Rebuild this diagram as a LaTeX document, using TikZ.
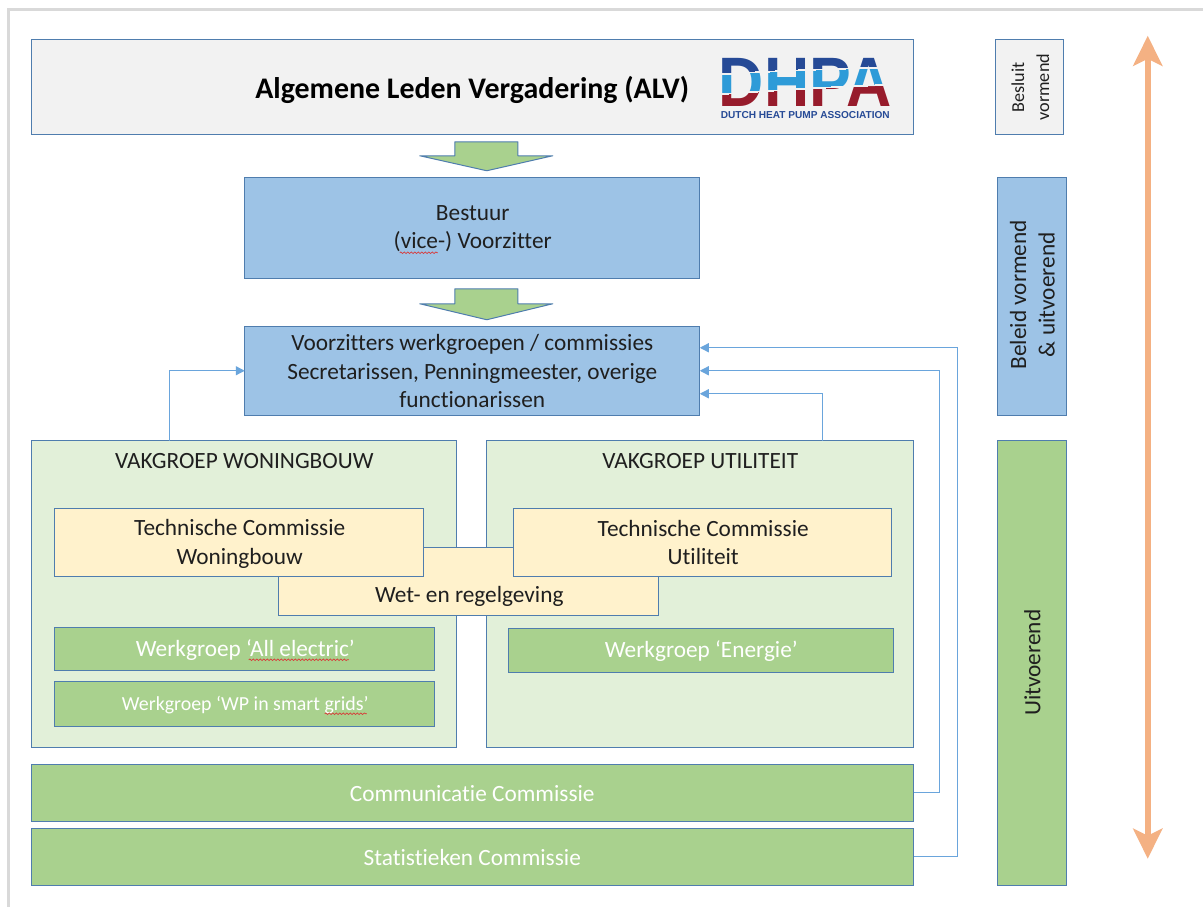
\documentclass[tikz,border=0pt]{standalone}
\usepackage{fontspec}
\usepackage{graphicx}
\setmainfont{Carlito}[Ligatures=CommonOff]
\newfontfamily\logofont{Liberation Sans}[BoldFont={Liberation Sans Bold}]
\usetikzlibrary{arrows.meta,decorations.pathmorphing}
\definecolor{edgeblue}{HTML}{4F7DAE}
\definecolor{lightgrey}{HTML}{F2F2F2}
\definecolor{midblue}{HTML}{9DC3E6}
\definecolor{midgreen}{HTML}{A9D18E}
\definecolor{palegreen}{HTML}{E2F0D9}
\definecolor{paleyellow}{HTML}{FFF2CC}
\definecolor{linkblue}{HTML}{6AA5DC}
\definecolor{orangearrow}{HTML}{F4B183}
\definecolor{logodark}{HTML}{264A96}
\definecolor{logolight}{HTML}{2E9BD8}
\definecolor{logored}{HTML}{971C2C}
\definecolor{pageline}{HTML}{D9D9D9}
\tikzset{
  x=1pt,y=-1pt,
  boxbase/.style={draw=edgeblue,line width=1.2pt,inner sep=0pt,outer sep=0pt,anchor=north west},
  greybox/.style={boxbase,fill=lightgrey},
  bluebox/.style={boxbase,fill=midblue},
  greenbox/.style={boxbase,fill=midgreen},
  palebox/.style={boxbase,fill=palegreen},
  yellowbox/.style={boxbase,fill=paleyellow},
  bodytext/.style={font=\fontsize{23.3}{28.5}\selectfont,align=center,text=black!88},
  whitetext/.style={font=\fontsize{23.3}{28.5}\selectfont,text=white},
  blockarrow/.style={draw=edgeblue,line width=1pt,fill=midgreen,line join=round},
  link/.style={draw=linkblue,line width=1.3pt,-{Triangle[length=9pt,width=9pt]}},
  squiggle/.style={draw=red!75!white!85!black,line width=.7pt,decorate,decoration={snake,amplitude=.8pt,segment length=3.5pt}},
  logoletters/.style={font=\logofont\bfseries\fontsize{70}{70}\selectfont,xscale=.895,inner sep=0pt},
}
\begin{document}
\begin{tikzpicture}
\useasboundingbox (0,0) rectangle (1203,907);
\fill[white] (0,0) rectangle (1203,907);
\begin{scope}[shift={(-.25,-.25)}]
\draw[pageline,line width=2.6pt] (9,908) -- (9,10) -- (1204,10);

% top
\node[greybox,minimum width=882pt,minimum height=95pt] (alv) at (32,40) {};
\node[font=\fontsize{29.9}{34}\selectfont\bfseries,text=black] (alvt) at (472.5,90.5) {Algemene Leden Vergadering (ALV)};
\node[greybox,minimum width=68pt,minimum height=95pt] (besluit) at (996,40) {};
\node[rotate=90,align=center,font=\fontsize{18.2}{25}\selectfont,text=black!88] (besluitt) at (1030.5,87.5) {Besluit\\vormend};

% logo
\begin{scope}
\clip (715,55) -- (895,55) -- (895,66.5) .. controls (850,67) and (790,69) .. (715,73.5) -- cycle;
\node[logoletters,text=logodark] (logoa) at (805.5,83) {DHPA};
\end{scope}
\begin{scope}
\clip (715,75.5) .. controls (790,71) and (850,69) .. (895,68.5) -- (895,83.5) .. controls (850,85) and (790,88) .. (715,93.5) -- cycle;
\node[logoletters,text=logolight] (logob) at (805.5,83) {DHPA};
\end{scope}
\begin{scope}
\clip (715,95.5) .. controls (790,90) and (850,87) .. (895,85.5) -- (895,111) -- (715,111) -- cycle;
\node[logoletters,text=logored] (logoc) at (805.5,83) {DHPA};
\end{scope}
\node[font=\logofont\bfseries\fontsize{11.5}{12}\selectfont,text=logodark,inner sep=0pt] (logosub) at (805.5,115.5) {\resizebox{169pt}{!}{DUTCH HEAT PUMP ASSOCIATION}};

% block arrows
\draw[blockarrow] (455,142) -- (518,142) -- (518,156) -- (553,156) -- (487,171) -- (420,156) -- (455,156) -- cycle;
\draw[blockarrow] (455,289) -- (518,289) -- (518,304) -- (553,304) -- (487,320) -- (420,304) -- (455,304) -- cycle;

% blue
\node[bluebox,minimum width=455pt,minimum height=101pt] (bestuur) at (245,178) {};
\node[bodytext] (bestuurt) at (473,229) {Bestuur\\(vice-) Voorzitter};
\node[bluebox,minimum width=455pt,minimum height=89pt] (voorz) at (245,327) {};
\node[bodytext] (voorzt) at (472.5,371.5) {Voorzitters werkgroepen / commissies\\Secretarissen, Penningmeester, overige\\functionarissen};
\node[bluebox,minimum width=69pt,minimum height=238pt] (beleid) at (998,178) {};
\node[bodytext,rotate=90] (beleidt) at (1032.5,295) {Beleid vormend\\\& uitvoerend};
\node[greenbox,minimum width=69pt,minimum height=445pt] (uitv) at (998,441) {};
\node[bodytext,rotate=90] (uitvt) at (1032.5,663) {Uitvoerend};

% vakgroepen
\node[palebox,minimum width=425pt,minimum height=307pt] (vakw) at (32,441) {};
\node[bodytext] (vakwt) at (244.5,461) {VAKGROEP WONINGBOUW};
\node[palebox,minimum width=427pt,minimum height=307pt] (vaku) at (487,441) {};
\node[bodytext] (vakut) at (700.5,461) {VAKGROEP UTILITEIT};

% yellow
\node[yellowbox,minimum width=380pt,minimum height=68pt] (wet) at (279,548) {};
\node[bodytext] (wett) at (469.5,597) {Wet- en regelgeving};
\node[yellowbox,minimum width=369pt,minimum height=68pt] (tcw) at (55,509) {};
\node[bodytext] (tcwt) at (240,544) {Technische Commissie\\Woningbouw};
\node[yellowbox,minimum width=378pt,minimum height=68pt] (tcu) at (514,509) {};
\node[bodytext] (tcut) at (703.5,542.5) {Technische Commissie\\Utiliteit};

% werkgroepen
\node[greenbox,minimum width=380pt,minimum height=43pt] (wga) at (55,628) {};
\node[whitetext] (wgat) at (245.5,650.5) {Werkgroep ‘All electric’};
\node[greenbox,minimum width=380pt,minimum height=45pt] (wgw) at (55,682) {};
\node[font=\fontsize{19.9}{24}\selectfont,text=white] (wgwt) at (245.5,705.5) {Werkgroep ‘WP in smart grids’};
\node[greenbox,minimum width=385pt,minimum height=44pt] (wge) at (509,629) {};
\node[whitetext] (wget) at (701.5,651) {Werkgroep ‘Energie’};
\node[greenbox,minimum width=882pt,minimum height=57pt] (comm) at (32,765) {};
\node[whitetext] (commt) at (472.5,793.5) {Communicatie Commissie};
\node[greenbox,minimum width=882pt,minimum height=57pt] (stat) at (32,829) {};
\node[whitetext] (statt) at (472.5,858) {Statistieken Commissie};

% squiggles
\draw[squiggle] (400,253) -- (438,253);
\draw[squiggle] (249,660) -- (349,660);
\draw[squiggle] (325,714) -- (367,714);

% connectors
\coordinate (wtop) at (170,441);
\coordinate (vin) at (245,371);
\coordinate (utop) at (823,441);
\coordinate (vr1) at (700,348);
\coordinate (vr2) at (700,371);
\coordinate (vr3) at (700,394);
\coordinate (cout) at (914,793);
\coordinate (sout) at (914,857);
\draw[link] (wtop) |- (vin);
\draw[link] (utop) |- (vr3);
\draw[link] (cout) -- (940,793) |- (vr2);
\draw[link] (sout) -- (958,857) |- (vr1);

% scale arrow
\coordinate (sa) at (1148,36);
\coordinate (sb) at (1148,859);
\draw[orangearrow,line width=6pt,{Stealth[length=30pt,width=29pt,inset=7pt]}-{Stealth[length=30pt,width=29pt,inset=7pt]}] (sa) -- (sb);
\end{scope}
\end{tikzpicture}
\end{document}
